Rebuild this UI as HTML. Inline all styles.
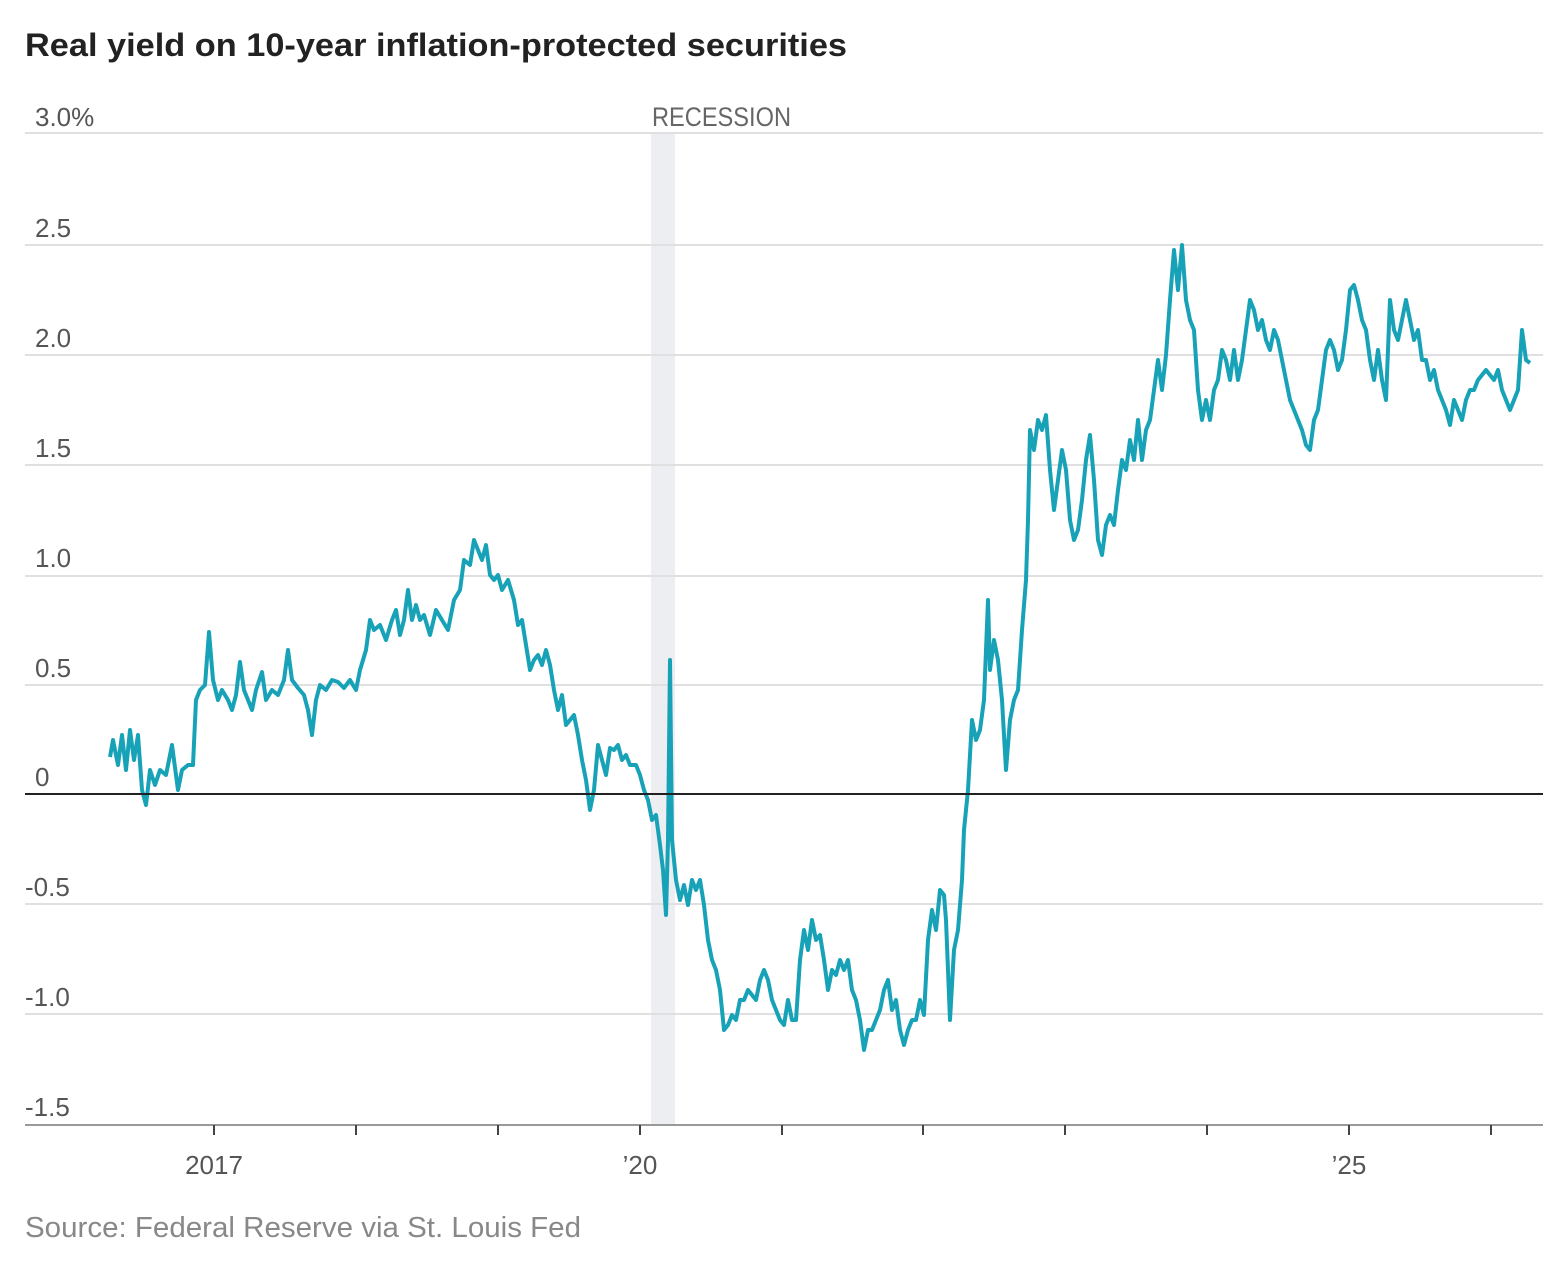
<!DOCTYPE html>
<html><head><meta charset="utf-8"><style>
html,body{margin:0;padding:0;background:#fff;}
body{width:1568px;height:1265px;overflow:hidden;font-family:"Liberation Sans",sans-serif;}
</style></head><body>
<svg width="1568" height="1265" xmlns="http://www.w3.org/2000/svg" font-family="Liberation Sans, sans-serif">
<text x="25" y="56" font-size="32" font-weight="bold" fill="#222" textLength="822" lengthAdjust="spacingAndGlyphs">Real yield on 10-year inflation-protected securities</text>
<rect x="651" y="133" width="24" height="992" fill="#eceef1"/>
<text x="652" y="126" font-size="27" fill="#666" textLength="139" lengthAdjust="spacingAndGlyphs">RECESSION</text>
<g stroke="#e0e0e0" stroke-width="2">
<line x1="25" x2="1543" y1="133" y2="133"/>
<line x1="25" x2="1543" y1="245" y2="245"/>
<line x1="25" x2="1543" y1="355" y2="355"/>
<line x1="25" x2="1543" y1="465" y2="465"/>
<line x1="25" x2="1543" y1="576" y2="576"/>
<line x1="25" x2="1543" y1="685" y2="685"/>
<line x1="25" x2="1543" y1="904" y2="904"/>
<line x1="25" x2="1543" y1="1014" y2="1014"/>
</g>
<line x1="25" x2="1543" y1="1125" y2="1125" stroke="#999" stroke-width="2"/>
<g stroke="#444" stroke-width="2">
<line x1="214" x2="214" y1="1125" y2="1135"/><line x1="356" x2="356" y1="1125" y2="1135"/>
<line x1="498" x2="498" y1="1125" y2="1135"/><line x1="640" x2="640" y1="1125" y2="1135"/>
<line x1="782" x2="782" y1="1125" y2="1135"/><line x1="923" x2="923" y1="1125" y2="1135"/>
<line x1="1065" x2="1065" y1="1125" y2="1135"/><line x1="1207" x2="1207" y1="1125" y2="1135"/>
<line x1="1349" x2="1349" y1="1125" y2="1135"/><line x1="1491" x2="1491" y1="1125" y2="1135"/>
</g>
<g font-size="26" fill="#555">
<text x="35" y="126">3.0%</text><text x="35" y="237">2.5</text><text x="35" y="347">2.0</text>
<text x="35" y="457">1.5</text><text x="35" y="567">1.0</text><text x="35" y="677">0.5</text>
<text x="35" y="786">0</text><text x="25" y="896">-0.5</text><text x="25" y="1006">-1.0</text>
<text x="25" y="1116">-1.5</text>
</g>
<g font-size="26" fill="#555" text-anchor="middle">
<text x="214" y="1174">2017</text><text x="640" y="1174">’20</text><text x="1349" y="1174">’25</text>
</g>
<polyline fill="none" stroke="#17a2b8" stroke-width="4" stroke-linejoin="round" points="110,757 113,740 118,765 122,735 126,770 130,730 134,760 138,735 142,790 146,805 150,770 155,785 160,770 166,775 172,745 178,790 182,770 188,765 193,765 196,700 200,690 205,685 209,632 213,680 218,700 222,690 228,700 232,710 236,695 240,662 244,690 248,700 252,710 256,690 262,672 266,700 272,690 278,695 284,680 288,650 292,680 298,688 304,695 308,710 312,735 316,700 320,685 326,690 332,680 338,682 344,688 350,680 356,690 360,670 366,650 370,620 374,630 380,625 386,640 392,620 396,610 400,635 404,620 408,590 412,620 416,605 420,620 424,615 430,635 436,610 442,620 448,630 454,600 460,590 464,560 470,565 474,540 478,550 482,560 486,545 490,575 494,580 498,575 502,590 508,580 514,600 518,625 522,620 526,645 530,670 534,660 538,655 542,665 546,650 550,665 554,690 558,710 562,695 566,725 570,720 574,715 578,735 582,760 586,780 590,810 594,790 598,745 602,760 606,775 610,748 614,750 618,745 622,760 626,755 630,765 636,765 640,775 644,790 648,800 652,820 656,815 660,845 663,870 666,915 668,840 670,660 672,840 676,880 680,900 684,885 688,905 692,880 696,890 700,880 704,905 708,940 712,960 716,970 720,990 724,1030 728,1025 732,1015 736,1020 740,1000 744,1000 748,990 752,995 756,1000 760,980 764,970 768,980 772,1000 776,1010 780,1020 784,1025 788,1000 792,1020 796,1020 800,960 804,930 808,950 812,920 816,940 820,935 824,960 828,990 832,970 836,975 840,960 844,970 848,960 852,990 856,1000 860,1020 864,1050 868,1030 872,1030 876,1020 880,1010 884,990 888,980 892,1010 896,1000 900,1030 904,1045 908,1030 912,1020 916,1020 920,1000 924,1015 928,940 932,910 936,930 940,890 944,895 946,920 950,1020 954,950 958,930 962,880 964,830 968,790 972,720 976,740 980,730 984,700 988,600 990,670 994,640 998,660 1002,700 1006,770 1010,720 1014,700 1018,690 1022,630 1026,580 1028,520 1030,430 1034,450 1038,420 1042,430 1046,415 1050,470 1054,510 1058,480 1062,450 1066,470 1070,520 1074,540 1078,530 1082,500 1086,460 1090,435 1094,480 1098,540 1102,555 1106,525 1110,515 1114,525 1118,490 1122,460 1126,470 1130,440 1134,460 1138,420 1142,460 1146,430 1150,420 1154,390 1158,360 1162,390 1166,355 1170,300 1174,250 1178,290 1182,245 1186,300 1190,320 1194,330 1198,390 1202,420 1206,400 1210,420 1214,390 1218,380 1222,350 1226,360 1230,380 1234,350 1238,380 1242,360 1246,330 1250,300 1254,310 1258,330 1262,320 1266,340 1270,350 1274,330 1278,340 1282,360 1286,380 1290,400 1294,410 1298,420 1302,430 1306,445 1310,450 1314,420 1318,410 1322,380 1326,350 1330,340 1334,350 1338,370 1342,360 1346,330 1350,290 1354,285 1358,300 1362,320 1366,330 1370,360 1374,380 1378,350 1382,380 1386,400 1390,300 1394,330 1398,340 1402,320 1406,300 1410,320 1414,340 1418,330 1422,360 1426,360 1430,380 1434,370 1438,390 1442,400 1446,410 1450,425 1454,400 1458,410 1462,420 1466,400 1470,390 1474,390 1478,380 1482,375 1486,370 1490,375 1494,380 1498,370 1502,390 1506,400 1510,410 1514,400 1518,390 1522,330 1526,360 1530,363"/>
<line x1="25" x2="1543" y1="794" y2="794" stroke="#222" stroke-width="2"/>
<text x="25" y="1237" font-size="29" fill="#888" textLength="556" lengthAdjust="spacingAndGlyphs">Source: Federal Reserve via St. Louis Fed</text>
</svg>
</body></html>
